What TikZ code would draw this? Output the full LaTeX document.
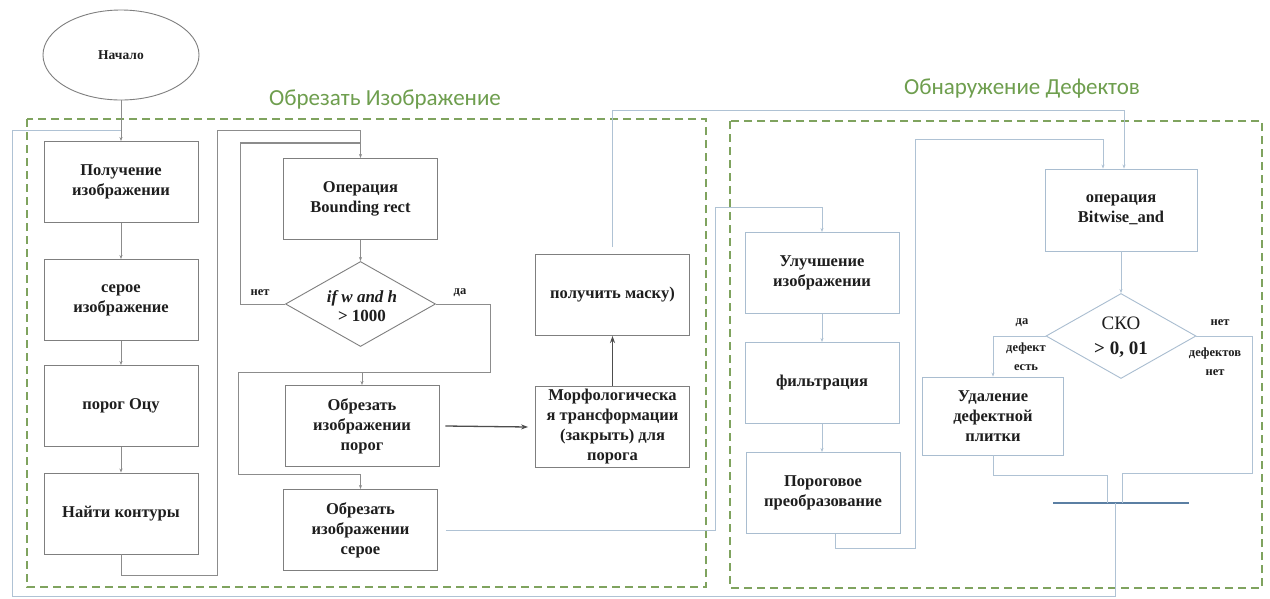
\documentclass[tikz,border=0pt]{standalone}
\usepackage{fontspec}
\setmainfont{Liberation Serif}
\newfontfamily\greenfont{Carlito}
\usetikzlibrary{shapes.geometric,arrows.meta}
\definecolor{boxgray}{HTML}{7F7F7F}
\definecolor{boxblue}{HTML}{A9BDD0}
\definecolor{linegray}{HTML}{8C8C8C}
\definecolor{lineblue}{HTML}{AFC2D4}
\definecolor{dashgreen}{HTML}{7FA35E}
\definecolor{titlegreen}{HTML}{6E9E4E}
\definecolor{barblue}{HTML}{5B7FA3}
\definecolor{darkline}{HTML}{4D4D4D}
\definecolor{txt}{HTML}{1E1E1E}
\begin{document}
\begin{tikzpicture}[x=1pt,y=-1pt,
  lbox/.style={draw=boxgray, line width=0.9pt, minimum width=154pt, minimum height=81pt,
    align=center, text=txt, font=\fontsize{16.5}{20}\selectfont\bfseries, inner sep=1pt},
  rbox/.style={lbox, draw=boxblue},
  gline/.style={draw=linegray, line width=0.8pt},
  bline/.style={draw=lineblue, line width=0.8pt},
  arr/.style={-{Stealth[length=4pt,width=3pt]}},
  tarr/.style={draw=darkline, line width=1.3pt, -{Stealth[length=7pt,width=5pt]}},
  zone/.style={draw=dashgreen, line width=1.5pt, dash pattern=on 8pt off 5pt},
  title/.style={text=titlegreen, font=\greenfont\fontsize{23}{27}\selectfont},
  lab/.style={text=txt, font=\fontsize{12.5}{19}\selectfont\bfseries, align=center},
  dia/.style={diamond, inner sep=0pt, line width=0.9pt, minimum width=150pt, minimum height=85pt}
]
\useasboundingbox (0,0) rectangle (1270,598);
\fill[white] (0,0) rectangle (1270,598);

% zones and titles
\draw[zone] (27,119) rectangle (706,587);
\draw[zone] (730,121) rectangle (1262,588);
\node[title] (t1) at (385,100) {Обрезать Изображение};
\node[title] (t2) at (1022,89) {Обнаружение Дефектов};

% left column
\node[ellipse, draw=boxgray, line width=0.9pt, minimum width=156pt, minimum height=90pt,
  text=txt, font=\fontsize{13.5}{16}\selectfont\bfseries] (start) at (121,55) {Начало};
\node[lbox] (n1) at (121,182) {Получение\\изображении};
\node[lbox] (n2) at (121,300) {серое\\изображение};
\node[lbox] (n3) at (121,406) {порог Оцу};
\node[lbox] (n4) at (121,513.5) {Найти контуры};

% middle
\node[lbox] (b1) at (360.5,199) {Операция\\Bounding rect};
\node[dia, draw=boxgray] (d1) at (360.5,304) {};
\node[text=txt, align=center, font=\fontsize{17}{19}\selectfont\bfseries] (d1t) at (362,306) {{\itshape if w and h}\\> 1000};
\node[lbox] (b2) at (362,426) {Обрезать\\изображении\\порог};
\node[lbox] (b3) at (360.5,530) {Обрезать\\изображении\\серое};
\node[lbox] (m1) at (612.5,427) {Морфологическа\\я трансформации\\(закрыть) для\\порога};
\node[lbox] (m2) at (612.5,295) {получить маску)};

% right
\node[rbox] (r1) at (822,273) {Улучшение\\изображении};
\node[rbox] (r2) at (822,383) {фильтрация};
\node[rbox] (r3) at (823,493) {Пороговое\\преобразование};
\node[rbox, minimum width=152pt, minimum height=82pt] (r4) at (1121,210) {операция\\Bitwise\_and};
\node[dia, draw=boxblue] (d2) at (1121,336) {};
\node[text=txt, align=center, font=\fontsize{19}{25}\selectfont] (d2t) at (1121,337) {СКО\\{\bfseries > 0, 01}};
\node[rbox, minimum width=141pt, minimum height=78pt] (r5) at (993,416) {Удаление\\дефектной\\плитки};
\coordinate (barL) at (1053,503);
\coordinate (barR) at (1189,503);
\coordinate (barout) at (1115,503);
\draw[barblue, line width=2.5pt] (barL) -- (barR);

% labels
\node[lab] (l1) at (260,293) {нет};
\node[lab] (l2) at (460,293) {да};
\node[lab] (l3) at (1022,323) {да};
\node[lab] (l4) at (1026,357) {дефект\\есть};
\node[lab] (l5) at (1220,323) {нет};
\node[lab] (l6) at (1215,362) {дефектов\\нет};

% connectors left column
\coordinate (jtop) at (121,130);
\draw[gline,arr] (start.south) -- (n1.north);
\draw[bline] (barout) -- (1115,596) -- (12,596) -- (12,130) -- (jtop);
\draw[gline,arr] (n1.south) -- (n2.north);
\draw[gline,arr] (n2.south) -- (n3.north);
\draw[gline,arr] (n3.south) -- (n4.north);
\draw[gline,arr] (n4.south) -- (121,575) -- (217,575) -- (217,130) -- (360.5,130) -- (b1.north);
\draw[gline,arr] (b1.south) -- (d1.north);
\draw[gline] (d1.west) -- (240,304) -- (240,143);
\draw[gline, line width=1.6pt] (240,143) -- (360.5,143);
\draw[gline,arr] (d1.east) -- (490,304) -- (490,372) -- (238,372) -- (238,474) -- (360.5,474) -- (b3.north);
\draw[gline,arr] (362,372) -- (b2.north);
\draw[tarr] ([xshift=6pt]b2.east) -- ([xshift=-7pt]m1.west);
\draw[tarr] (m1.north) -- (m2.south);
\draw[bline,arr] ([yshift=7pt]m2.north) -- (612.5,110) -- (1124,110) -- ([xshift=3pt]r4.north);
\draw[bline,arr] ([xshift=8pt]b3.east) -- (715,530) -- (715,207) -- (822,207) -- (r1.north);

% right connectors
\draw[bline,arr] (r1.south) -- (r2.north);
\draw[bline,arr] (r2.south) -- (r2.south |- r3.north);
\draw[bline,arr] ([xshift=12pt]r3.south) -- (835,548) -- (915,548) -- (915,139) -- (1103,139) -- ([xshift=-18pt]r4.north);
\draw[bline,arr] (r4.south) -- (d2.north);
\draw[bline,arr] (d2.west) -- (993,336) -- (r5.north);
\draw[bline] (d2.east) -- (1252,336) -- (1252,473) -- (1122,473) -- (1122,503);
\draw[bline] (r5.south) -- (993,475) -- (1107,475) -- (1107,503);
\end{tikzpicture}
\end{document}
